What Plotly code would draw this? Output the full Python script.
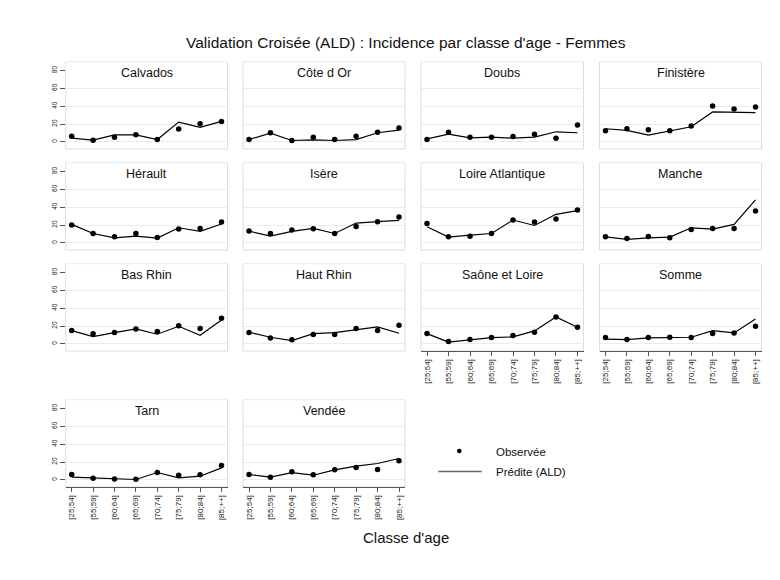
import plotly.graph_objects as go

W, H = 780, 580

age_labels = ["[25;54]", "[55;59]", "[60;64]", "[65;69]", "[70;74]", "[75;79]", "[80;84]", "[85;++]"]
age_idx = list(range(len(age_labels)))

departements = ["Calvados", "Côte d Or", "Doubs", "Finistère",
                "Hérault", "Isère", "Loire Atlantique", "Manche",
                "Bas Rhin", "Haut Rhin", "Saône et Loire", "Somme",
                "Tarn", "Vendée"]

obs_calvados = [6.4, 1.9, 5.3, 7.9, 2.6, 14.3, 20.3, 22.9]
pred_calvados = [4.1, 1.9, 7.9, 7.9, 2.6, 22.2, 16.2, 22.9]
obs_cotedor = [2.6, 10.2, 1.5, 5.3, 2.6, 6.4, 10.9, 15.4]
pred_cotedor = [2.6, 9.8, 1.5, 2.3, 1.5, 2.6, 10.2, 13.2]
obs_doubs = [2.6, 10.9, 5.3, 5.3, 6.0, 8.6, 4.1, 18.8]
pred_doubs = [3.4, 8.6, 4.5, 5.3, 4.1, 5.3, 11.3, 10.2]
obs_finistere = [12.4, 14.7, 13.5, 12.4, 17.7, 40.2, 36.8, 39.1]
pred_finistere = [14.7, 12.8, 7.5, 12.4, 16.9, 33.5, 32.7, 32.7]
obs_herault = [19.9, 10.5, 6.8, 10.5, 6.0, 15.4, 16.2, 23.3]
pred_herault = [20.7, 10.5, 5.6, 7.5, 5.3, 16.9, 12.8, 21.1]
obs_isere = [13.2, 10.5, 14.3, 15.8, 10.5, 18.4, 23.7, 28.9]
pred_isere = [13.2, 7.5, 12.8, 16.2, 10.5, 22.2, 23.7, 25.2]
obs_loireatl = [21.8, 6.8, 7.5, 10.5, 25.6, 23.3, 26.7, 36.8]
pred_loireatl = [18.0, 6.4, 8.6, 10.5, 25.6, 19.5, 32.0, 36.1]
obs_manche = [6.8, 4.9, 7.1, 5.6, 15.0, 16.2, 16.2, 35.7]
pred_manche = [6.8, 3.8, 5.6, 6.4, 16.9, 15.4, 20.7, 48.1]
obs_basrhin = [14.9, 11.2, 12.6, 16.7, 13.8, 20.4, 17.1, 28.6]
pred_basrhin = [14.9, 8.2, 12.6, 16.7, 10.8, 19.7, 9.7, 26.8]
obs_hautrhin = [12.6, 6.7, 4.5, 10.4, 10.4, 17.1, 14.9, 20.8]
pred_hautrhin = [13.0, 7.4, 3.7, 11.5, 12.6, 15.6, 19.0, 11.9]
obs_saone = [11.5, 2.6, 4.8, 7.1, 9.3, 13.0, 30.1, 18.6]
pred_saone = [11.5, 1.9, 4.5, 7.1, 7.8, 14.5, 30.1, 18.6]
obs_somme = [7.1, 4.8, 7.1, 7.4, 7.1, 11.5, 12.3, 19.7]
pred_somme = [5.2, 4.8, 6.7, 7.4, 7.4, 14.9, 12.3, 27.9]
obs_tarn = [6.0, 1.9, 1.1, 0.7, 8.2, 5.2, 5.6, 16.1]
pred_tarn = [3.0, 1.9, 1.5, 0.4, 8.2, 2.2, 4.1, 13.5]
obs_vendee = [6.0, 3.0, 9.0, 5.6, 11.2, 13.8, 11.6, 21.3]
pred_vendee = [6.0, 3.0, 8.2, 5.2, 11.2, 15.3, 18.3, 23.9]

observed = [obs_calvados, obs_cotedor, obs_doubs, obs_finistere,
            obs_herault, obs_isere, obs_loireatl, obs_manche,
            obs_basrhin, obs_hautrhin, obs_saone, obs_somme,
            obs_tarn, obs_vendee]
predicted = [pred_calvados, pred_cotedor, pred_doubs, pred_finistere,
             pred_herault, pred_isere, pred_loireatl, pred_manche,
             pred_basrhin, pred_hautrhin, pred_saone, pred_somme,
             pred_tarn, pred_vendee]

y_ticks = [0, 20, 40, 60, 80]

# layout geometry (pixels)
col_px = [(65.7, 227.5), (243, 405), (421, 583.5), (599.5, 761.5)]
row_px = [(62, 149), (163, 250), (264, 351), (400, 487)]

FONT = "Liberation Sans, Arial, sans-serif"
FRAME = "#d3dee8"
GRID = "#e7ecf0"
DARK = "#555555"

fig = go.Figure()
shapes = []
annotations = []

for i, name in enumerate(departements):
    r, c = divmod(i, 4)
    k = i + 1
    xa = "x" if k == 1 else f"x{k}"
    ya = "y" if k == 1 else f"y{k}"
    xkey = "xaxis" if k == 1 else f"xaxis{k}"
    ykey = "yaxis" if k == 1 else f"yaxis{k}"
    x0, x1 = col_px[c]
    y0, y1 = row_px[r]
    bottom = (r == 3) or (r == 2 and c >= 2)
    left = (c == 0)

    fig.add_trace(go.Scatter(x=age_idx, y=predicted[i], mode="lines",
                             line=dict(color="black", width=1.2),
                             xaxis=xa, yaxis=ya, showlegend=False,
                             name="Prédite (ALD)"))
    fig.add_trace(go.Scatter(x=age_idx, y=observed[i], mode="markers",
                             marker=dict(color="black", size=5.5),
                             xaxis=xa, yaxis=ya, showlegend=False,
                             name="Observée"))

    fig.layout[xkey] = dict(
        domain=[x0 / W, x1 / W], anchor=ya, range=[-0.28, 7.28],
        tickvals=age_idx, ticktext=age_labels,
        showgrid=False, zeroline=False,
        showline=bottom, linecolor=DARK, linewidth=1,
        ticks="outside" if bottom else "", ticklen=4, tickcolor=DARK,
        showticklabels=bottom, tickangle=-90,
        tickfont=dict(size=8, color="#222", family=FONT),
        fixedrange=True,
    )
    fig.layout[ykey] = dict(
        domain=[1 - y1 / H, 1 - y0 / H], anchor=xa, range=[-8, 89.5],
        tickvals=y_ticks, showgrid=True, gridcolor=GRID, gridwidth=1,
        zeroline=False, showline=False,
        ticks="outside" if left else "", ticklen=5, tickcolor=DARK,
        showticklabels=left, tickangle=-90,
        tickfont=dict(size=6.5, color="#222", family=FONT),
        fixedrange=True,
    )
    # panel frame
    shapes.append(dict(type="rect", xref=f"{xa} domain", yref=f"{ya} domain",
                       x0=0, x1=1, y0=0, y1=1, line=dict(color=FRAME, width=1),
                       fillcolor="rgba(0,0,0,0)", layer="below"))
    # title strip cover (hides top gridline)
    shapes.append(dict(type="rect", xref=f"{xa} domain", yref=ya,
                       x0=0.004, x1=0.996, y0=72, y1=89.3, line=dict(width=0),
                       fillcolor="white", layer="above"))
    annotations.append(dict(text=name, xref=f"{xa} domain", yref="paper",
                            x=0.5, y=1 - (y0 + 11) / H, showarrow=False,
                            xanchor="center", yanchor="middle",
                            font=dict(size=12.5, color="#111", family=FONT)))

# legend (manual)
shapes.append(dict(type="circle", xref="paper", yref="paper",
                   x0=(459.3 - 2.3) / W, x1=(459.3 + 2.3) / W,
                   y0=1 - (451 + 2.3) / H, y1=1 - (451 - 2.3) / H,
                   fillcolor="black", line=dict(width=0)))
shapes.append(dict(type="line", xref="paper", yref="paper",
                   x0=438.3 / W, x1=481.7 / W, y0=1 - 471.5 / H, y1=1 - 471.5 / H,
                   line=dict(color="#666", width=1.5)))
annotations.append(dict(text="Observée", xref="paper", yref="paper",
                        x=494 / W, y=1 - 451.5 / H, showarrow=False,
                        xanchor="left", yanchor="middle",
                        font=dict(size=11.5, color="#111", family=FONT)))
annotations.append(dict(text="Prédite (ALD)", xref="paper", yref="paper",
                        x=494 / W, y=1 - 472.3 / H, showarrow=False,
                        xanchor="left", yanchor="middle",
                        font=dict(size=11.5, color="#111", family=FONT)))
# main title and axis title
annotations.append(dict(text="Validation Croisée (ALD) : Incidence par classe d'age - Femmes",
                        xref="paper", yref="paper", x=405.5 / W, y=1 - 43 / H,
                        showarrow=False, xanchor="center", yanchor="middle",
                        font=dict(size=15.5, color="#111", family=FONT)))
annotations.append(dict(text="Classe d'age", xref="paper", yref="paper",
                        x=405.5 / W, y=1 - 537 / H, showarrow=False,
                        xanchor="center", yanchor="middle",
                        font=dict(size=15, color="#111", family=FONT)))

fig.update_layout(
    width=W, height=H, margin=dict(l=0, r=0, t=0, b=0),
    paper_bgcolor="white", plot_bgcolor="white",
    shapes=shapes, annotations=annotations, showlegend=False,
    font=dict(family=FONT),
)

fig.write_html("out.html", config={"displayModeBar": False})
